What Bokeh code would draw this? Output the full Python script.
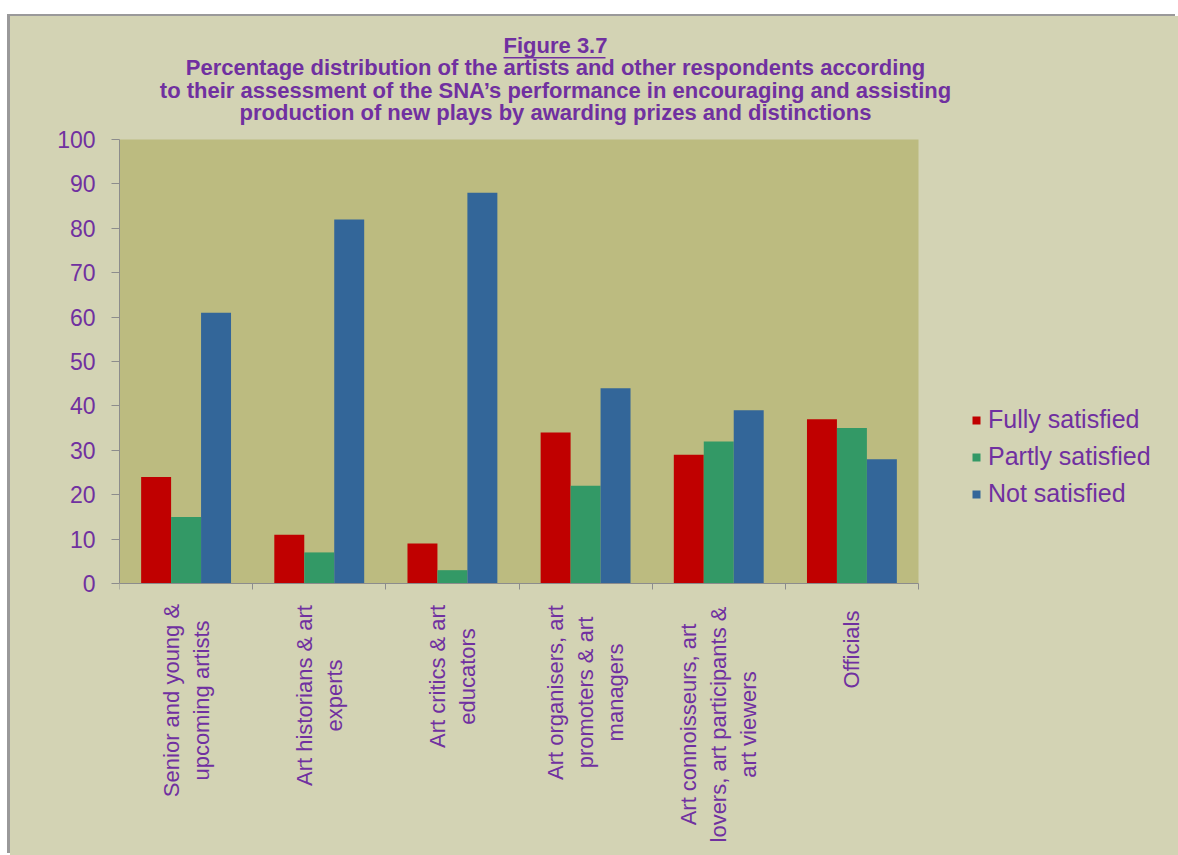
from bokeh.plotting import figure
from bokeh.models import (Range1d, FixedTicker, LinearAxis, Legend, LegendItem,
                          Label, BoxAnnotation, ColumnDataSource)
from bokeh.embed import file_html
from bokeh.resources import INLINE
from bokeh.transform import dodge

# ---- data ----
categories = [
    "Senior and young & upcoming artists",
    "Art historians & art experts",
    "Art critics & art educators",
    "Art organisers, art promoters & art managers",
    "Art connoisseurs, art lovers, art participants & art viewers",
    "Officials",
]
category_lines = [
    ["Senior and young &", "upcoming artists"],
    ["Art historians & art", "experts"],
    ["Art critics & art", "educators"],
    ["Art organisers, art", "promoters & art", "managers"],
    ["Art connoisseurs, art", "lovers, art participants &", "art viewers"],
    ["Officials"],
]
fully_satisfied = [24, 11, 9, 34, 29, 37]
partly_satisfied = [15, 7, 3, 22, 32, 35]
not_satisfied = [61, 82, 88, 44, 39, 28]
series_names = ["Fully satisfied", "Partly satisfied", "Not satisfied"]
y_ticks = [0, 10, 20, 30, 40, 50, 60, 70, 80, 90, 100]
title_lines = [
    "Figure 3.7",
    "Percentage distribution of the artists and other respondents according",
    "to their assessment of the SNA\u2019s performance in encouraging and assisting",
    "production of new plays by awarding prizes and distinctions",
]

# ---- style / layout ----
colors = ["#C00000", "#339966", "#336699"]
purple = "#7030A0"
outer_bg = "#D3D3B4"
plot_bg = "#BCBB80"
axis_col = "#8C8C8C"
font = "Liberation Sans"

PAGE_W, PAGE_H = 1178, 855
OX, OY = 10, 16                      # canvas origin on the page
W, H = PAGE_W - OX, PAGE_H - OY
AX_X0, AX_X1 = 119, 918              # page pixel extent of the category axis
AX_Y0, AX_Y1 = 583, 139              # page pixel of value 0 and of value 100
LEFT = AX_X0 - OX
BOTTOM_BORDER = 8
ncat = len(categories)
px_x = (AX_X1 - AX_X0) / ncat
px_y = (AX_Y0 - AX_Y1) / 100.0
frame_bottom_page = PAGE_H - BOTTOM_BORDER

def dx(px):   # page x pixel -> data x
    return (px - AX_X0) / px_x

def dy(py):   # page y pixel -> data y
    return (AX_Y0 - py) / px_y

p = figure(width=W, height=H, output_backend="svg", toolbar_location=None,
           x_range=Range1d(0, dx(PAGE_W)), y_range=Range1d(dy(frame_bottom_page), dy(OY)),
           min_border_left=LEFT, min_border_right=0, min_border_top=0,
           min_border_bottom=BOTTOM_BORDER, x_axis_type=None, y_axis_type=None)
p.margin = (OY, 0, 0, OX)
p.styles = {"box-shadow": "-3px -2px 0px 0px #9A999A", "background-color": outer_bg}
p.background_fill_color = None
p.border_fill_color = None
p.outline_line_color = None
p.grid.visible = False

# plot area background
p.add_layout(BoxAnnotation(left=0, right=ncat, bottom=0, top=100, level="underlay",
                           fill_color=plot_bg, fill_alpha=1, line_color=None))

src = ColumnDataSource(dict(
    x=[i + 0.5 for i in range(ncat)],
    fully=fully_satisfied, partly=partly_satisfied, nots=not_satisfied))

bw = 0.225
renderers = []
for off, col, c in zip([-bw, 0, bw], ["fully", "partly", "nots"], colors):
    r = p.vbar(x=dodge("x", off), top=col, width=bw, source=src,
               fill_color=c, line_color=None)
    renderers.append(r)

# y axis
yax = LinearAxis(ticker=FixedTicker(ticks=y_ticks), bounds=(0, 100))
yax.axis_line_color = axis_col
yax.major_tick_line_color = axis_col
yax.major_tick_out = 8
yax.major_tick_in = 0
yax.minor_tick_line_color = None
yax.major_label_standoff = 16
yax.major_label_text_font = font
yax.major_label_text_font_size = "23px"
yax.major_label_text_color = purple
p.add_layout(yax, "left")

# x axis at value 0, tick marks at category boundaries (no tick labels)
xax = LinearAxis(ticker=FixedTicker(ticks=[], minor_ticks=list(range(ncat + 1))),
                 bounds=(0, ncat), fixed_location=0)
xax.axis_line_color = axis_col
xax.major_tick_line_color = None
xax.minor_tick_line_color = axis_col
xax.minor_tick_out = 6
xax.minor_tick_in = 0
xax.major_label_standoff = 0
p.add_layout(xax, "below")

# category labels (rotated, one label per line, lines centred)
label_center_px = [117, 112, 93, 109, 141, 66]
line_gap = 30
for i, lines in enumerate(category_lines):
    n = len(lines)
    for j, t in enumerate(lines):
        p.add_layout(Label(x=i + 0.5, y=dy(AX_Y0 + label_center_px[i]),
                           x_offset=(j - (n - 1) / 2) * line_gap,
                           text=t, angle=1.5708, text_align="center",
                           text_baseline="middle", text_font=font,
                           text_font_size="22px", text_color=purple))

# title
title_cx = 555
title_py = [45, 67, 90, 112]
for t, ty in zip(title_lines, title_py):
    p.add_layout(Label(x=dx(title_cx), y=dy(ty), text=t,
                       text_align="center", text_baseline="middle",
                       text_font=font, text_font_style="bold",
                       text_font_size="22px", text_color=purple))
# underline of "Figure 3.7"
p.add_layout(BoxAnnotation(left=dx(title_cx - 52), right=dx(title_cx + 50),
                           bottom=dy(58), top=dy(56.5),
                           fill_color=purple, fill_alpha=1, line_color=None))

# legend
legend = Legend(items=[LegendItem(label=n, renderers=[r]) for n, r in zip(series_names, renderers)],
                location=(971 - AX_X0, frame_bottom_page - 508), glyph_width=10, glyph_height=10,
                label_standoff=7, spacing=8, padding=0, margin=0,
                border_line_alpha=0, background_fill_alpha=0,
                label_text_color=purple, label_text_font=font,
                label_text_font_size="25px")
p.add_layout(legend, "center")

open("out.html", "w").write(file_html(p, INLINE))
